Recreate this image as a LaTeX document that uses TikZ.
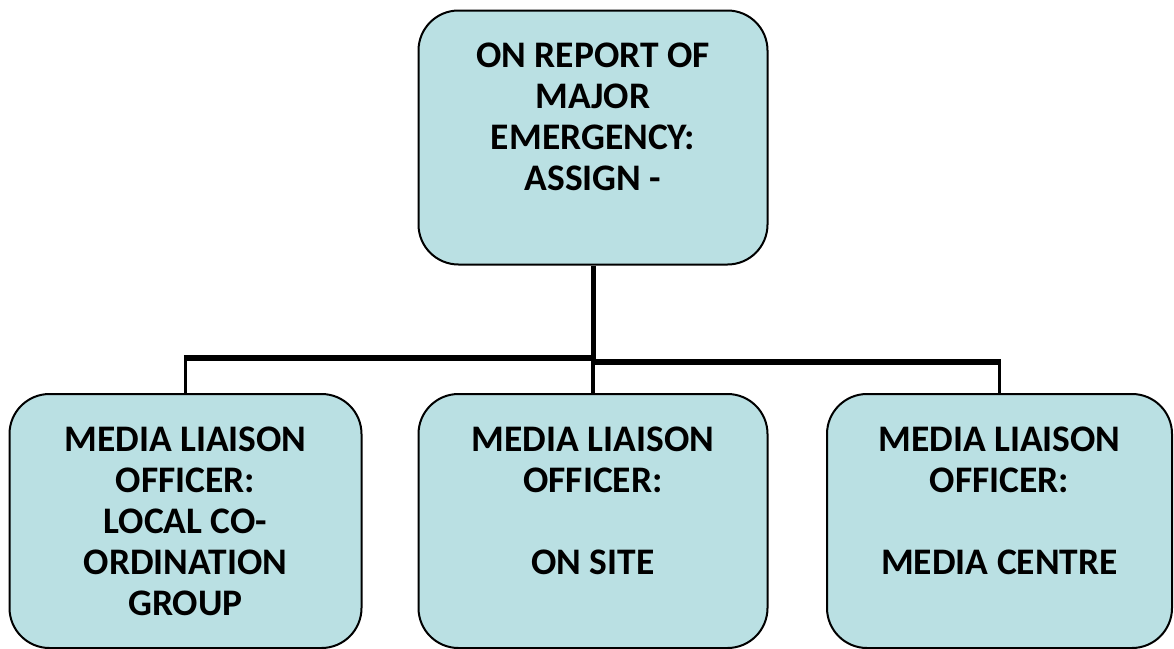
\documentclass[tikz,border=0pt]{standalone}
\usepackage{fontspec}
\setmainfont{Carlito}
\definecolor{boxfill}{RGB}{186,224,227}
\begin{document}
\begin{tikzpicture}[x=1pt,y=-1pt,
  box/.style={draw=black, line width=2pt, fill=boxfill, rounded corners=40pt,
    align=center, inner sep=0pt, font=\fontsize{37.5}{41}\selectfont\bfseries},
  trunk/.style={line width=5pt},
  bar/.style={line width=6pt},
  leg/.style={line width=3.2pt}]
\useasboundingbox (0,0) rectangle (1174,648);
\node[box, minimum width=349pt, minimum height=254pt] (top) at (593,137.5)
  {ON REPORT OF\\MAJOR\\EMERGENCY:\\ASSIGN -\\\mbox{}};
\node[box, minimum width=352pt, minimum height=254pt] (lbox) at (185.5,521)
  {MEDIA LIAISON\\OFFICER:\\LOCAL CO-\\ORDINATION\\GROUP};
\node[box, minimum width=349pt, minimum height=254pt] (mbox) at (593,521)
  {MEDIA LIAISON\\OFFICER:\\\mbox{}\\ON SITE\\\mbox{}};
\node[box, minimum width=345pt, minimum height=254pt] (rbox) at (999.5,521)
  {MEDIA LIAISON\\OFFICER:\\\mbox{}\\MEDIA CENTRE\\\mbox{}};
\coordinate (jl) at (593,358);
\coordinate (jr) at (593,362);
\draw[leg] (lbox.north) -- (lbox.north |- jl);
\draw[leg] (mbox.north) -- (jr);
\draw[leg] (rbox.north) -- (rbox.north |- jr);
\draw[bar] ([xshift=-1.6pt]lbox.north |- jl) -- (jl);
\draw[bar] (jr) -- ([xshift=1.6pt]rbox.north |- jr);
\draw[trunk] (top.south) -- ([yshift=-3pt]jr);
\end{tikzpicture}
\end{document}
